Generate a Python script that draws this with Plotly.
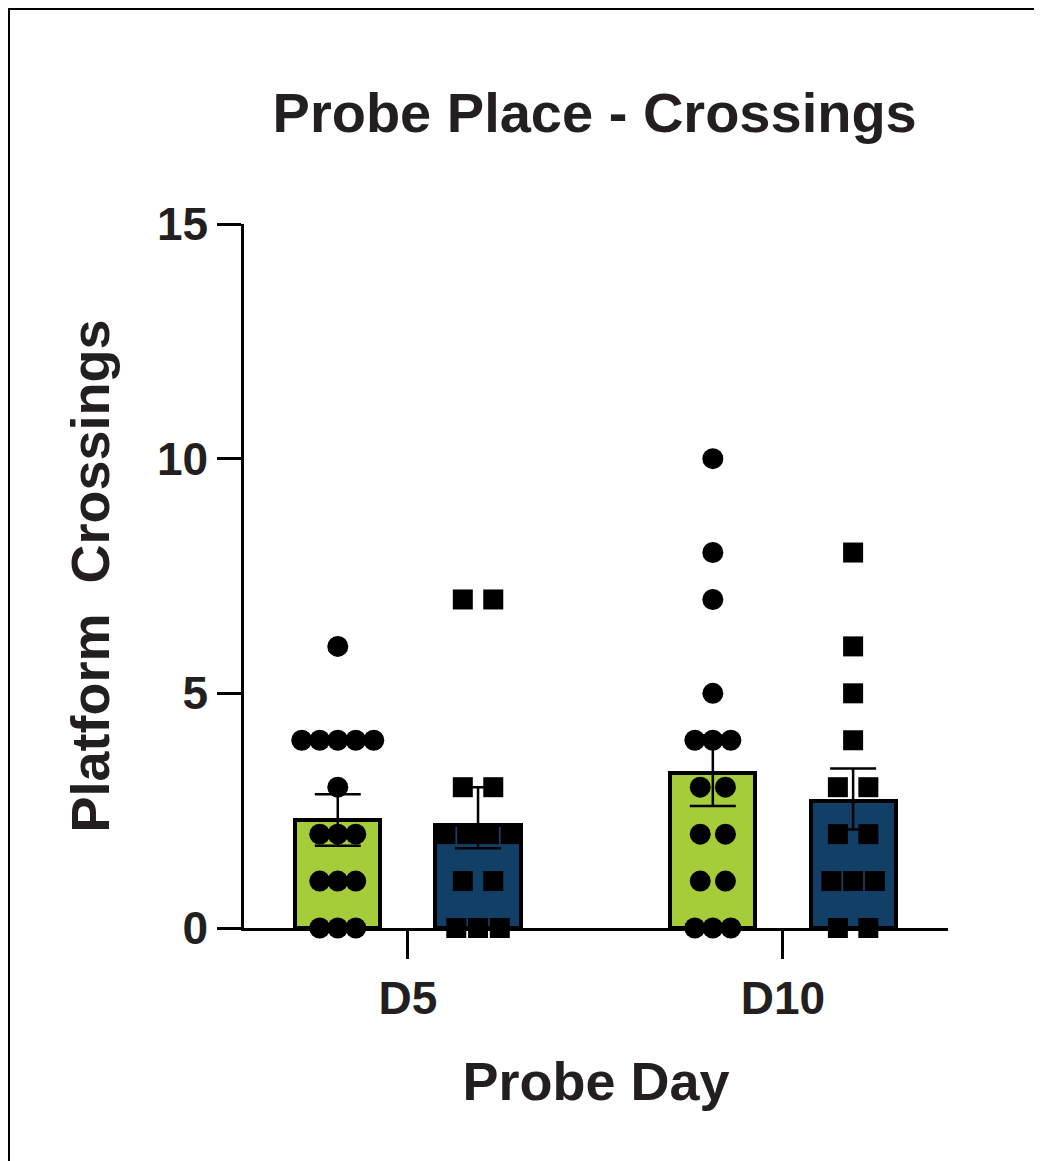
import plotly.graph_objects as go
from collections import defaultdict

days = ["D5", "D10"]
green_pts = [[6, 4, 4, 4, 4, 4, 3, 2, 2, 2, 1, 1, 1, 0, 0, 0],
             [10, 8, 7, 5, 4, 4, 4, 3, 3, 2, 2, 1, 1, 0, 0, 0]]
blue_pts = [[7, 7, 3, 3, 2, 2, 2, 2, 1, 1, 0, 0, 0],
            [8, 6, 5, 4, 3, 3, 2, 2, 1, 1, 1, 0, 0]]
green_mean = [2.3, 3.3]
green_err_hi = [0.55, 0.8]
green_err_lo = [0.55, 0.7]
blue_mean = [2.2, 2.7]
blue_err_hi = [0.8, 0.7]
blue_err_lo = [0.5, 0.6]

GREEN = "#a5cd39"
BLUE = "#123f66"
OFF = 0.187
W = 0.227

fig = go.Figure()
for mean, hi, lo, col, sgn in [(green_mean, green_err_hi, green_err_lo, GREEN, -1),
                               (blue_mean, blue_err_hi, blue_err_lo, BLUE, 1)]:
    fig.add_trace(go.Bar(x=[i + sgn * OFF for i in range(len(days))], y=mean, width=W,
                         marker=dict(color=col, line=dict(color="black", width=4)),
                         error_y=dict(type="data", array=hi, arrayminus=lo, color="black",
                                      thickness=2.5, width=23), showlegend=False))

def jitter(vals, center, sp):
    groups = defaultdict(int)
    for v in vals:
        groups[v] += 1
    seen = defaultdict(int)
    xs = []
    for v in vals:
        n = groups[v]
        k = seen[v]
        seen[v] += 1
        s = sp if n != 2 else sp * 1.4
        xs.append(center + (k - (n - 1) / 2) * s)
    return xs

for pts, sym, sgn, sp in [(green_pts, "circle", -1, 0.048), (blue_pts, "square", 1, 0.058)]:
    xs, ys = [], []
    for i, vals in enumerate(pts):
        xs += jitter(vals, i + sgn * OFF, sp)
        ys += vals
    fig.add_trace(go.Scatter(x=xs, y=ys, mode="markers", cliponaxis=False,
                             marker=dict(symbol=sym, color="black", size=21 if sym == "circle" else 20),
                             showlegend=False))

fnt = "Liberation Sans"
C = "#231f20"
fig.update_layout(
    width=1042, height=1161, plot_bgcolor="white", paper_bgcolor="white",
    margin=dict(l=236, r=102, t=216, b=241),
    font=dict(family=fnt, color=C),
    title=dict(text="<b>Probe Place - Crossings</b>", x=0.563, xanchor="center", y=0.91, yanchor="middle",
               font=dict(size=56, family=fnt, color=C)),
    xaxis=dict(range=[-0.437, 1.44], tickvals=[0, 1], ticktext=["<b>D5</b>", "<b>D10</b>"],
               showline=True, linecolor="black", linewidth=2.5, ticks="outside", ticklen=28,
               tickwidth=2.5, tickcolor="black", showgrid=False, zeroline=False,
               tickfont=dict(size=46, family=fnt, color=C),
               title=dict(text="<b>Probe Day</b>", standoff=40, font=dict(size=54, family=fnt, color=C))),
    yaxis=dict(range=[0, 15], tickvals=[0, 5, 10, 15], ticktext=["<b>0</b>", "<b>5</b>", "<b>10</b>", "<b>15</b>"],
               showline=True, linecolor="black", linewidth=2.5, ticks="outside", ticklen=24,
               tickwidth=2.5, tickcolor="black", showgrid=False, zeroline=False,
               tickfont=dict(size=46, family=fnt, color=C),
               title=dict(text="<b>Platform  Crossings</b>", standoff=30, font=dict(size=54, family=fnt, color=C))),
    bargap=0,
    shapes=[dict(type="rect", xref="paper", yref="paper",
                 x0=-235/704, x1=1+101/704, y0=-240/704, y1=1+215/704,
                 line=dict(color="black", width=2))],
)
fig.write_html("out.html")
